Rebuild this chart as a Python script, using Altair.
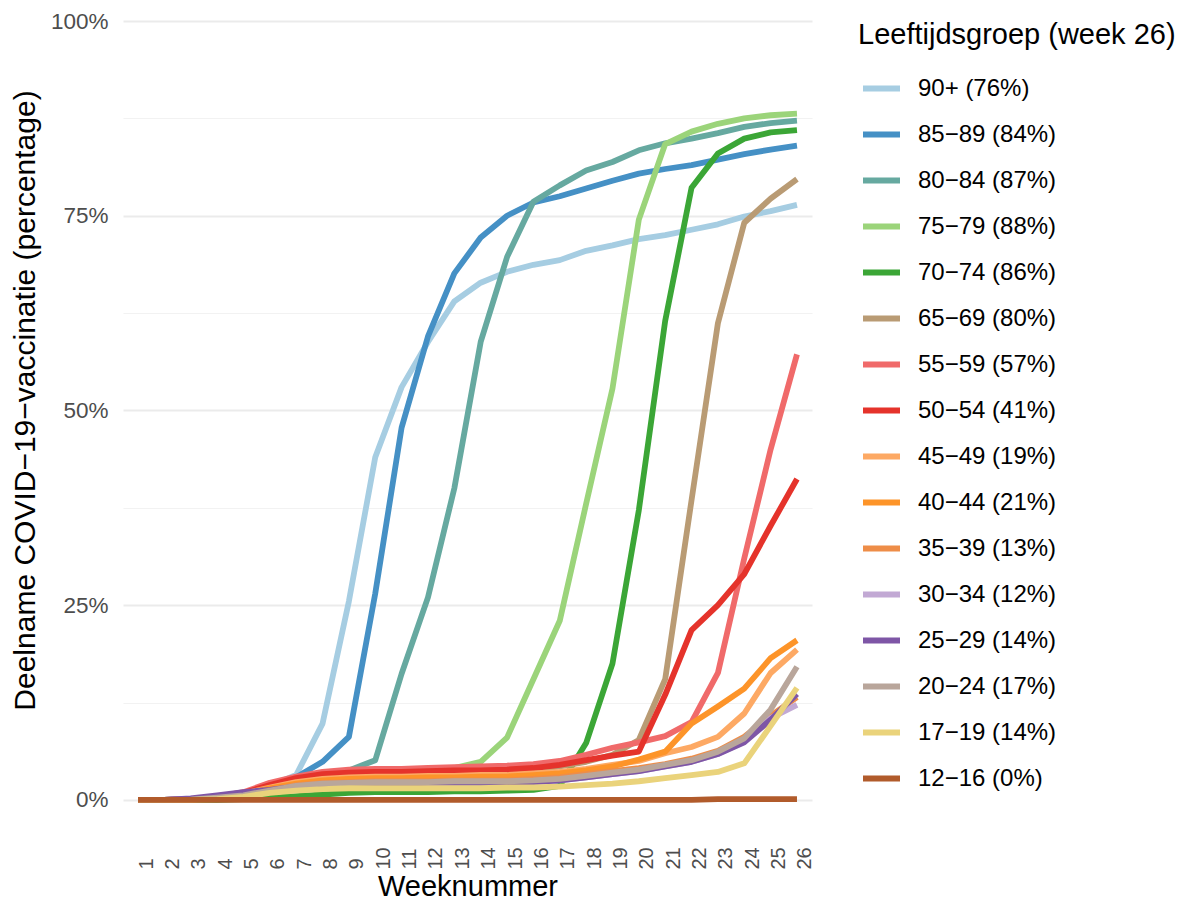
import altair as alt
import pandas as pd

weeks = list(range(1, 27))

groups = [
    "90+ (76%)", "85−89 (84%)", "80−84 (87%)", "75−79 (88%)", "70−74 (86%)",
    "65−69 (80%)", "55−59 (57%)", "50−54 (41%)", "45−49 (19%)", "40−44 (21%)",
    "35−39 (13%)", "30−34 (12%)", "25−29 (14%)", "20−24 (17%)", "17−19 (14%)",
    "12−16 (0%)",
]
colors = [
    "#a6cde2", "#4590c5", "#66a9a0", "#9bd47a", "#3ba636",
    "#b99b74", "#f06a6a", "#e5332b", "#fda964", "#fd9429",
    "#ee8d48", "#c2a9d4", "#7e56a6", "#b9a69b", "#ead37b",
    "#b15b2b",
]

v_90 = [0, 0, 0.1, 0.3, 0.8, 1.8, 3.2, 9.8, 25.5, 44.0, 53.0, 58.8, 64.0, 66.4, 67.8, 68.7, 69.3, 70.5, 71.2, 72.0, 72.5, 73.2, 73.9, 74.9, 75.6, 76.4]
v_85 = [0, 0, 0.1, 0.3, 0.8, 1.7, 2.9, 4.9, 8.1, 26.5, 47.8, 59.5, 67.6, 72.2, 75.0, 76.7, 77.5, 78.5, 79.5, 80.4, 81.0, 81.5, 82.2, 82.9, 83.5, 84.0]
v_80 = [0, 0, 0.1, 0.3, 0.8, 1.7, 2.8, 3.3, 3.8, 5.1, 16.2, 26.0, 40.0, 58.8, 69.7, 76.8, 78.9, 80.8, 81.9, 83.4, 84.3, 84.9, 85.6, 86.4, 86.9, 87.2]
v_75 = [0, 0, 0.1, 0.3, 0.8, 1.6, 2.6, 3.0, 3.3, 3.5, 3.7, 3.9, 4.1, 4.9, 8.0, 15.5, 23.0, 38.0, 52.8, 74.5, 84.2, 85.8, 86.8, 87.5, 87.9, 88.1]
v_70 = [0, 0, 0, 0, 0.1, 0.3, 0.5, 0.7, 0.9, 1.0, 1.0, 1.0, 1.1, 1.1, 1.2, 1.3, 1.8, 7.3, 17.5, 37.2, 61.5, 78.6, 83.0, 84.9, 85.7, 86.0]
v_65 = [0, 0, 0.1, 0.3, 0.8, 1.7, 2.5, 2.9, 3.1, 3.2, 3.3, 3.4, 3.5, 3.6, 3.7, 3.9, 4.3, 4.9, 5.8, 7.7, 15.5, 38.5, 61.2, 74.1, 77.2, 79.7]
v_55 = [0, 0, 0.1, 0.4, 1.0, 2.2, 3.0, 3.6, 3.9, 4.0, 4.0, 4.1, 4.2, 4.3, 4.4, 4.6, 5.0, 5.8, 6.7, 7.4, 8.2, 10.0, 16.3, 31.0, 45.0, 57.2]
v_50 = [0, 0, 0.1, 0.4, 0.9, 1.9, 2.8, 3.3, 3.5, 3.6, 3.6, 3.7, 3.8, 3.8, 3.9, 4.1, 4.5, 5.1, 5.7, 6.2, 13.5, 21.8, 25.0, 29.0, 35.2, 41.2]
v_45 = [0, 0, 0.05, 0.3, 0.8, 1.6, 2.3, 2.7, 2.9, 3.0, 3.0, 3.1, 3.1, 3.2, 3.2, 3.4, 3.6, 4.0, 4.5, 5.0, 6.0, 6.8, 8.1, 11.1, 16.3, 19.3]
v_40 = [0, 0, 0.05, 0.3, 0.7, 1.5, 2.1, 2.5, 2.7, 2.8, 2.8, 2.9, 2.9, 3.0, 3.0, 3.2, 3.4, 3.8, 4.3, 5.2, 6.2, 9.8, 12.0, 14.3, 18.2, 20.5]
v_35 = [0, 0, 0.05, 0.3, 0.6, 1.3, 1.9, 2.2, 2.3, 2.4, 2.4, 2.4, 2.5, 2.5, 2.5, 2.7, 2.9, 3.3, 3.7, 4.1, 4.6, 5.3, 6.3, 8.1, 10.8, 13.2]
v_30 = [0, 0, 0.1, 0.4, 0.8, 1.2, 1.7, 2.0, 2.1, 2.1, 2.1, 2.2, 2.2, 2.2, 2.2, 2.3, 2.5, 2.9, 3.3, 3.7, 4.3, 4.9, 5.9, 7.5, 10.5, 12.2]
v_25 = [0, 0, 0.2, 0.6, 1.0, 1.3, 1.7, 2.0, 2.1, 2.1, 2.1, 2.2, 2.2, 2.2, 2.2, 2.3, 2.5, 2.9, 3.3, 3.7, 4.3, 4.9, 5.9, 7.4, 10.3, 13.6]
v_20 = [0, 0, 0.05, 0.3, 0.6, 1.2, 1.8, 2.1, 2.2, 2.3, 2.3, 2.3, 2.4, 2.4, 2.4, 2.5, 2.7, 3.1, 3.5, 3.9, 4.5, 5.1, 6.2, 7.9, 11.6, 17.1]
v_17 = [0, 0, 0, 0.1, 0.4, 0.9, 1.2, 1.4, 1.5, 1.5, 1.5, 1.5, 1.5, 1.5, 1.6, 1.6, 1.7, 1.9, 2.1, 2.4, 2.8, 3.2, 3.6, 4.7, 9.5, 14.4]
v_12 = [0, 0, 0, 0, 0, 0, 0, 0, 0, 0, 0, 0, 0, 0, 0, 0, 0, 0, 0, 0, 0, 0, 0.1, 0.1, 0.1, 0.1]

series = [v_90, v_85, v_80, v_75, v_70, v_65, v_55, v_50, v_45, v_40,
          v_35, v_30, v_25, v_20, v_17, v_12]

rows = []
for g, vals in zip(groups, series):
    for w, v in zip(weeks, vals):
        rows.append({"week": w, "pct": v, "group": g})
df = pd.DataFrame(rows)

FONT = "Liberation Sans"

chart = alt.Chart(df).mark_line(
    strokeWidth=5.8, strokeCap="butt", strokeJoin="round", opacity=1
).encode(
    x=alt.X(
        "week:O",
        sort=weeks,
        scale=alt.Scale(type="point", padding=0.57),
        axis=alt.Axis(
            title="Weeknummer",
            labelAngle=270,
            labelAlign="left",
            labelBaseline="middle",
            labelFontSize=20,
            labelColor="#4d4d4d",
            labelPadding=34,
            labelOffset=8,
            grid=False,
            domain=False,
            ticks=False,
            titleFontSize=29,
            titleFontWeight="normal",
            titleColor="#000000",
            titleBaseline="alphabetic",
            titleY=60,
        ),
    ),
    y=alt.Y(
        "pct:Q",
        scale=alt.Scale(domain=[-4.5, 100], nice=False, zero=False),
        axis=alt.Axis(
            title="Deelname COVID−19−vaccinatie (percentage)",
            values=[0, 12.5, 25, 37.5, 50, 62.5, 75, 87.5, 100],
            labelExpr="datum.value % 25 === 0 ? datum.value + '%' : ''",
            labelFontSize=22.5,
            labelColor="#4d4d4d",
            labelPadding=15,
            domain=False,
            ticks=False,
            grid=True,
            gridColor={"condition": {"test": "datum.value % 25 === 0", "value": "#ebebeb"}, "value": "#f2f2f2"},
            gridWidth={"condition": {"test": "datum.value % 25 === 0", "value": 2.2}, "value": 1.2},
            titleFontSize=30,
            titleFontWeight="normal",
            titleColor="#000000",
            titleAngle=270,
            titleAlign="center",
            titleBaseline="middle",
            titleX=-98,
            titleY=379,
        ),
    ),
    color=alt.Color(
        "group:N",
        sort=groups,
        scale=alt.Scale(domain=groups, range=colors),
        legend=alt.Legend(
            title="Leeftijdsgroep (week 26)",
            orient="none",
            legendX=735,
            legendY=0,
            padding=0,
            titleFontSize=29,
            titleFontWeight="normal",
            titleColor="#000000",
            titlePadding=17,
            titleLimit=600,
            labelFontSize=24,
            labelColor="#000000",
            labelLimit=400,
            labelOffset=15,
            symbolType="stroke",
            symbolStrokeWidth=6,
            symbolSize=1369,
            symbolOffset=2,
            rowPadding=12,
        ),
    ),
).properties(
    width=689,
    height=814,
    autosize=alt.AutoSizeParams(type="none"),
    padding={"left": 115, "top": 13, "right": 364, "bottom": 67},
).configure(
    font=FONT,
).configure_view(
    stroke=None,
)

chart.save("out.html", embed_options={"renderer": "svg", "actions": False})
